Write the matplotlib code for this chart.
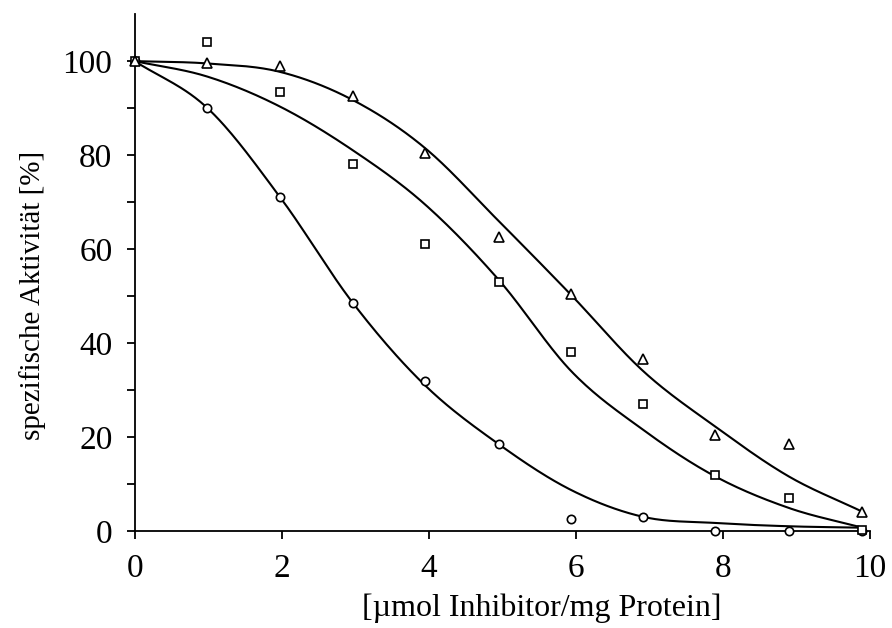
import matplotlib
matplotlib.use('Agg')
import matplotlib.pyplot as plt
import numpy as np

# inhibitor amounts (µmol / mg protein)
x_vals = [0, 0.99, 1.98, 2.97, 3.95, 4.95, 5.94, 6.92, 7.9, 8.9, 9.9]

# measured specific activity [%]
circle_data = [100, 90, 71, 48.5, 32, 18.5, 2.5, 3, 0, 0, 0]
square_data = [100, 104, 93.5, 78, 61, 53, 38, 27, 12, 7, 0.3]
triangle_data = [100, 99.5, 99, 92.5, 80.5, 62.5, 50.5, 36.5, 20.5, 18.5, 4]

# fitted curve values at the same x
circle_fit = [100, 90, 71, 48.5, 31, 18.5, 8.7, 3, 1.7, 1.0, 0.7]
square_fit = [100, 96.7, 90.3, 81, 69.5, 53.5, 34, 21.5, 11.6, 4.9, 0.7]
triangle_fit = [100, 99.5, 97.7, 91.7, 81.5, 66, 50.2, 34, 22.2, 11.6, 4.1]


def smooth(xs, ys, n=30):
    # catmull-rom smoothing, like a spreadsheet "smoothed line"
    xs = np.asarray(xs, float)
    ys = np.asarray(ys, float)
    px = np.concatenate([[2 * xs[0] - xs[1]], xs, [2 * xs[-1] - xs[-2]]])
    py = np.concatenate([[2 * ys[0] - ys[1]], ys, [2 * ys[-1] - ys[-2]]])
    out_x, out_y = [], []
    t = np.linspace(0, 1, n, endpoint=False)
    for i in range(1, len(px) - 2):
        for arr, out in ((px, out_x), (py, out_y)):
            p0, p1, p2, p3 = arr[i - 1], arr[i], arr[i + 1], arr[i + 2]
            out.extend(0.5 * (2 * p1 + (-p0 + p2) * t
                              + (2 * p0 - 5 * p1 + 4 * p2 - p3) * t ** 2
                              + (-p0 + 3 * p1 - 3 * p2 + p3) * t ** 3))
    out_x.append(xs[-1])
    out_y.append(ys[-1])
    return out_x, out_y


plt.rcParams['font.family'] = ['Liberation Serif', 'DejaVu Serif']

fig = plt.figure(figsize=(8.92, 6.28), dpi=100)
ax = fig.add_axes([0.151, 0.1545, 0.824, 0.823])

for fit in (circle_fit, square_fit, triangle_fit):
    sx, sy = smooth(x_vals, fit)
    ax.plot(sx, sy, color='black', lw=1.5, zorder=2, clip_on=False)

for data, m, ms in ((circle_data, 'o', 6), (square_data, 's', 6), (triangle_data, '^', 7)):
    ax.plot(x_vals, data, linestyle='none', marker=m, markersize=ms,
            markerfacecolor='white', markeredgecolor='black', markeredgewidth=1.2,
            zorder=3, clip_on=False)

ax.set_xlim(0, 10)
ax.set_ylim(0, 110)
ax.set_xticks([0, 2, 4, 6, 8, 10])
ax.set_yticks([0, 20, 40, 60, 80, 100])
ax.set_yticks([10, 30, 50, 70, 90], minor=True)

for side in ('top', 'right'):
    ax.spines[side].set_visible(False)
for side in ('left', 'bottom'):
    ax.spines[side].set_linewidth(1.3)

ax.tick_params(axis='both', which='both', direction='out', width=1.3, labelsize=24)
ax.tick_params(axis='y', which='both', length=6, pad=10)
ax.tick_params(axis='x', which='major', length=6, pad=10)

ax.set_xlabel('[µmol Inhibitor/mg Protein]', fontsize=23, labelpad=7, x=0.554)
ax.set_ylabel('spezifische Aktivität [%]', fontsize=21, labelpad=12, y=0.456)

fig.savefig('out.png', dpi=100)
